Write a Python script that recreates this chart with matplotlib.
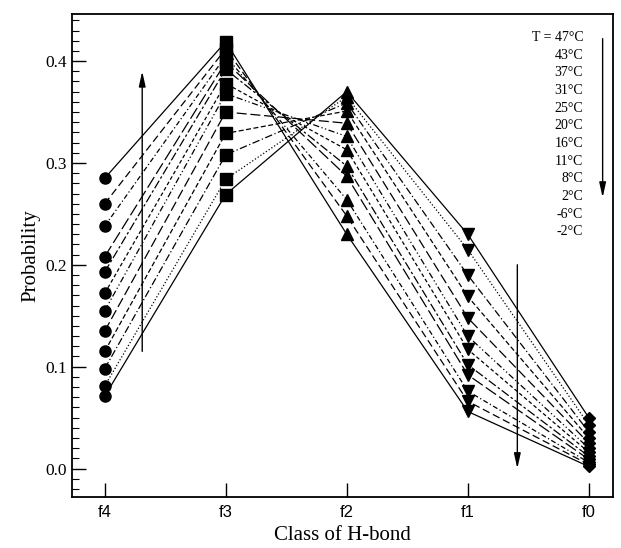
import matplotlib.pyplot as plt
from matplotlib.ticker import MultipleLocator

classes = ['f4', 'f3', 'f2', 'f1', 'f0']
temps = ['47', '43', '37', '31', '25', '20', '16', '11', '8', '2', '-6', '-2']

# probability of each H-bond class, one entry per temperature (same order as temps)
f4 = [0.071, 0.081, 0.098, 0.115, 0.135, 0.155, 0.172, 0.193, 0.208, 0.238, 0.260, 0.285]
f3 = [0.269, 0.284, 0.308, 0.329, 0.350, 0.368, 0.378, 0.392, 0.399, 0.405, 0.412, 0.419]
f2 = [0.370, 0.365, 0.359, 0.351, 0.339, 0.326, 0.313, 0.297, 0.287, 0.264, 0.248, 0.230]
f1 = [0.230, 0.215, 0.190, 0.169, 0.148, 0.130, 0.117, 0.102, 0.092, 0.076, 0.066, 0.056]
f0 = [0.050, 0.043, 0.036, 0.030, 0.025, 0.020, 0.016, 0.012, 0.009, 0.006, 0.004, 0.002]

styles = ['-', ':', (0, (6, 2, 1, 2)), (0, (4, 2)), (0, (8, 3)), (0, (5, 2, 1, 2, 1, 2)),
          (0, (3, 2)), (0, (7, 2, 2, 2)), (0, (10, 3)), (0, (4, 2, 1, 2)), (0, (6, 3)), '-']
markers = ['o', 's', '^', 'v', 'D']
msizes = [8, 8, 8.5, 8.5, 6.5]

serif = 'Liberation Serif'
sans = 'Liberation Sans'

fig = plt.figure(figsize=(6.21, 5.48), dpi=100)
ax = fig.add_axes([0.116, 0.093, 0.871, 0.881])

xs = list(range(len(classes)))
for i in range(len(temps)):
    ys = [f4[i], f3[i], f2[i], f1[i], f0[i]]
    ax.plot(xs, ys, color='black', lw=0.9, ls=styles[i])

cols = [f4, f3, f2, f1, f0]
for j, col in enumerate(cols):
    ax.plot([xs[j]] * len(col), col, ls='none', marker=markers[j],
            ms=msizes[j], color='black', mec='black')

# trend arrows
arrow = dict(arrowstyle='-|>,head_length=0.9,head_width=0.2', color='black', lw=1.0,
             shrinkA=0, shrinkB=0)
ax.annotate('', xy=(0.31, 0.39), xytext=(0.31, 0.115), arrowprops=arrow)
ax.annotate('', xy=(3.41, 0.0), xytext=(3.41, 0.2), arrowprops=arrow)
ax.annotate('', xy=(4.115, 0.266), xytext=(4.115, 0.422), arrowprops=arrow)

# temperature list
labels = ['T = 47°C'] + [t + '°C' for t in temps[1:]]
for k, lab in enumerate(labels):
    ax.text(0.945, 0.952 - k * 0.0366, lab, transform=ax.transAxes, ha='right',
            va='center', fontsize=10, family=serif)

ax.set_xlim(-0.27, 4.2)
ax.set_ylim(-0.028, 0.446)
ax.set_xticks(xs)
ax.set_xticklabels(classes, family=sans, fontsize=12)
ax.yaxis.set_major_locator(MultipleLocator(0.1))
ax.yaxis.set_minor_locator(MultipleLocator(0.01))
ax.yaxis.set_major_formatter(plt.FormatStrFormatter('%.1f'))
for t in ax.get_yticklabels():
    t.set_family(serif)
    t.set_fontsize(12.5)
ax.tick_params(axis='both', which='major', direction='in', length=10, width=1)
ax.tick_params(axis='y', which='minor', direction='in', length=5, width=0.8)
ax.tick_params(axis='x', pad=6)
for s in ax.spines.values():
    s.set_linewidth(1.3)

ax.set_xlabel('Class of H-bond', family=serif, fontsize=15)
ax.set_ylabel('Probability', family=serif, fontsize=15)

fig.savefig('out.png', dpi=100)
